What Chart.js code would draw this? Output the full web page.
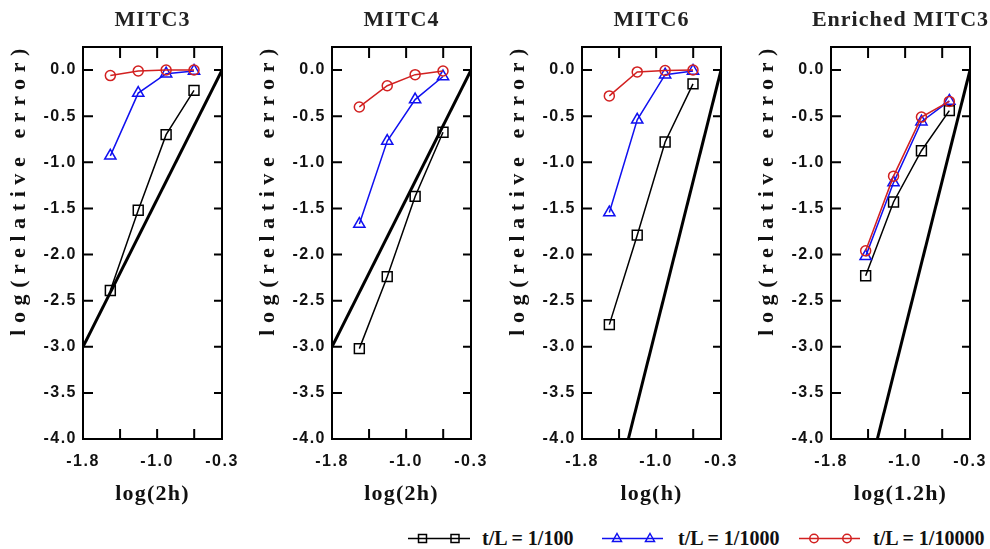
<!DOCTYPE html>
<html>
<head>
<meta charset="utf-8">
<script src="https://cdn.jsdelivr.net/npm/chart.js@4.4.1/dist/chart.umd.min.js"></script>
<style>
html,body{margin:0;padding:0;background:#fff;width:990px;height:549px;overflow:hidden;}
#wrap{position:relative;width:990px;height:549px;}
.panel{position:absolute;top:0;width:242px;height:511px;}
.lg-svg{position:absolute;top:530px;}
.lg-text{position:absolute;top:528px;font-family:"Liberation Serif","Times New Roman",serif;font-weight:bold;font-size:20px;line-height:20px;color:#111;white-space:nowrap;}
</style>
</head>
<body>
<div id="wrap">
  <div class="panel" style="left:0px"><canvas id="c0" width="242" height="511"></canvas></div>
  <div class="panel" style="left:249px"><canvas id="c1" width="242" height="511"></canvas></div>
  <div class="panel" style="left:499px"><canvas id="c2" width="242" height="511"></canvas></div>
  <div class="panel" style="left:748px"><canvas id="c3" width="242" height="511"></canvas></div>

  <svg class="lg-svg" style="left:406px" width="66" height="17">
    <line x1="2" y1="8.5" x2="64" y2="8.5" stroke="#000" stroke-width="1.5"/>
    <rect x="12.5" y="4.5" width="8" height="8" fill="none" stroke="#000" stroke-width="1.5"/>
    <rect x="45" y="4.5" width="8" height="8" fill="none" stroke="#000" stroke-width="1.5"/>
  </svg>
  <span class="lg-text" id="lg0" style="left:482px"></span>

  <svg class="lg-svg" style="left:600px" width="66" height="17">
    <line x1="2" y1="8.5" x2="63" y2="8.5" stroke="#1010f0" stroke-width="1.5"/>
    <polygon points="17,3.5 21.5,11.5 12.5,11.5" fill="none" stroke="#1010f0" stroke-width="1.5"/>
    <polygon points="50,3.5 54.5,11.5 45.5,11.5" fill="none" stroke="#1010f0" stroke-width="1.5"/>
  </svg>
  <span class="lg-text" id="lg1" style="left:678px"></span>

  <svg class="lg-svg" style="left:797px" width="66" height="17">
    <line x1="2" y1="8.5" x2="63" y2="8.5" stroke="#d22020" stroke-width="1.5"/>
    <circle cx="17" cy="8.5" r="4.2" fill="none" stroke="#d22020" stroke-width="1.5"/>
    <circle cx="50" cy="8.5" r="4.2" fill="none" stroke="#d22020" stroke-width="1.5"/>
  </svg>
  <span class="lg-text" id="lg2" style="left:873px"></span>
</div>

<script>
// ---------------- DATA ----------------
const panelTitles = ['MITC3', 'MITC4', 'MITC6', 'Enriched MITC3'];
const xAxisTitles = ['log(2h)', 'log(2h)', 'log(h)', 'log(1.2h)'];
const yAxisTitle = 'log(relative error)';
const seriesLabels = ['t/L = 1/100', 't/L = 1/1000', 't/L = 1/10000'];

const xTickLabels = [-1.8, -1.0, -0.3];
const xMinorTicks = [-1.4, -1.0, -0.6];
const yTickValues = [-4.0, -3.5, -3.0, -2.5, -2.0, -1.5, -1.0, -0.5, 0.0];

// x positions of the meshes
const xMITC3 = [-1.505, -1.204, -0.903, -0.602];
const xMITC4 = [-1.505, -1.204, -0.903, -0.602];
const xMITC6 = [-1.505, -1.204, -0.903, -0.602];
const xEnriched = [-1.426, -1.125, -0.824, -0.523];

// MITC3
const mitc3_100   = [-2.39, -1.52, -0.70, -0.22];
const mitc3_1000  = [-0.93, -0.25, -0.04, -0.01];
const mitc3_10000 = [-0.06, -0.01, 0.00, 0.00];
// MITC4
const mitc4_100   = [-3.02, -2.24, -1.37, -0.675];
const mitc4_1000  = [-1.67, -0.77, -0.32, -0.07];
const mitc4_10000 = [-0.40, -0.17, -0.05, -0.01];
// MITC6
const mitc6_100   = [-2.76, -1.79, -0.78, -0.15];
const mitc6_1000  = [-1.545, -0.54, -0.05, -0.01];
const mitc6_10000 = [-0.28, -0.02, -0.005, 0.00];
// Enriched MITC3
const enr_100   = [-2.23, -1.43, -0.875, -0.44];
const enr_1000  = [-2.02, -1.22, -0.56, -0.335];
const enr_10000 = [-1.96, -1.15, -0.51, -0.34];

// optimal-rate reference lines
const refX_low = [-1.8, -0.3];
const refY_low = [-3.0, 0.0];
const refX_high = [-1.3, -0.3];
const refY_high = [-4.0, 0.0];

// ---------------- STYLE / SETUP ----------------
const BLACK = '#000000', BLUE = '#1010f0', RED = '#d22020';
const SERIF = '"Liberation Serif","Times New Roman",serif';
const SANS = '"Liberation Sans",Arial,sans-serif';

seriesLabels.forEach((t, i) => { document.getElementById('lg' + i).textContent = t; });

function pts(xs, ys) { return xs.map((x, i) => ({ x: x, y: ys[i] })); }

function withSpacing(obj, name, sp, shiftFn) {
  if (!obj || obj['_sp_' + name]) return;
  const orig = obj[name];
  obj[name] = function () {
    const ctx = this.ctx;
    ctx.save();
    if ('letterSpacing' in ctx) ctx.letterSpacing = sp + 'px';
    if (shiftFn) { const d = shiftFn(this); ctx.translate(d[0], d[1]); }
    const r = orig.apply(this, arguments);
    ctx.restore();
    return r;
  };
  obj['_sp_' + name] = true;
}

const spacingPlugin = {
  id: 'spacing',
  beforeDraw(chart) {
    const ca = chart.chartArea;
    withSpacing(chart.titleBlock, 'draw', 1, t => [(ca.left + ca.right) / 2 - (t.left + t.right) / 2, 0]);
    withSpacing(chart.scales.x, 'drawLabels', 1.5);
    withSpacing(chart.scales.y, 'drawLabels', 1.5);
    withSpacing(chart.scales.x, 'drawTitle', 1.2);
    withSpacing(chart.scales.y, 'drawTitle', 6.6, () => [0, -5]);
  }
};

const framePlugin = {
  id: 'frame',
  beforeDatasetsDraw(chart) {
    const { ctx, chartArea: { left, right, top, bottom }, scales: { x, y } } = chart;
    ctx.save();
    ctx.strokeStyle = '#000';
    ctx.lineWidth = 2;
    ctx.beginPath();
    xMinorTicks.forEach(v => {
      const px = x.getPixelForValue(v);
      ctx.moveTo(px, bottom); ctx.lineTo(px, bottom - 10);
      ctx.moveTo(px, top); ctx.lineTo(px, top + 11);
    });
    yTickValues.forEach(v => {
      const py = y.getPixelForValue(v);
      ctx.moveTo(left, py); ctx.lineTo(left + 10, py);
      ctx.moveTo(right, py); ctx.lineTo(right - 8, py);
    });
    ctx.stroke();
    ctx.strokeRect(left, top, right - left, bottom - top);
    ctx.restore();
  }
};

function makeChart(id, idx, xs, s100, s1000, s10000, rx, ry) {
  const datasets = [
    { label: seriesLabels[2], data: pts(xs, s10000), borderColor: RED, borderWidth: 1.5,
      pointStyle: 'circle', pointRadius: 5, pointBorderWidth: 1.5, pointBorderColor: RED,
      pointBackgroundColor: 'rgba(0,0,0,0)', showLine: true, order: 0 },
    { label: seriesLabels[1], data: pts(xs, s1000), borderColor: BLUE, borderWidth: 1.5,
      pointStyle: 'triangle', pointRadius: 6.5, pointBorderWidth: 1.5, pointBorderColor: BLUE,
      pointBackgroundColor: 'rgba(0,0,0,0)', showLine: true, order: 1 },
    { label: seriesLabels[0], data: pts(xs, s100), borderColor: BLACK, borderWidth: 1.5,
      pointStyle: 'rect', pointRadius: 7, pointBorderWidth: 1.5, pointBorderColor: BLACK,
      pointBackgroundColor: 'rgba(0,0,0,0)', showLine: true, order: 2 },
    { label: 'reference', data: pts(rx, ry), borderColor: BLACK, borderWidth: 3,
      pointRadius: 0, showLine: true, order: 3 }
  ];
  return new Chart(document.getElementById(id), {
    type: 'scatter',
    data: { datasets },
    plugins: [spacingPlugin, framePlugin],
    options: {
      responsive: false,
      animation: false,
      devicePixelRatio: 1,
      layout: { padding: { left: 0, right: 20, top: 0, bottom: 0 } },
      plugins: {
        legend: { display: false },
        tooltip: { enabled: false },
        title: {
          display: true, text: panelTitles[idx], color: '#222',
          font: { family: SERIF, size: 22, weight: 'bold', lineHeight: 1 },
          padding: { top: 9, bottom: 16 }
        }
      },
      scales: {
        x: {
          type: 'linear', min: -1.8, max: -0.3,
          afterFit: s => { s.height = 72; s.paddingLeft = 0; s.paddingRight = 0; },
          afterBuildTicks: s => { s.ticks = xTickLabels.map(v => ({ value: v })); },
          grid: { display: false, drawTicks: false },
          border: { display: false },
          ticks: { autoSkip: false, maxRotation: 0, padding: 13, color: '#111',
                   font: { family: SANS, size: 16, weight: 'bold' },
                   callback: v => Number(v).toFixed(1) },
          title: { display: true, text: xAxisTitles[idx], color: '#111',
                   font: { family: SERIF, size: 22, weight: 'bold', lineHeight: 1 },
                   padding: { top: 0, bottom: 6 } }
        },
        y: {
          type: 'linear', min: -4, max: 0.25,
          afterFit: s => { s.width = 83; s.paddingTop = 0; s.paddingBottom = 0; },
          afterBuildTicks: s => { s.ticks = yTickValues.map(v => ({ value: v })); },
          grid: { display: false, drawTicks: false },
          border: { display: false },
          ticks: { autoSkip: false, padding: 6, color: '#111',
                   font: { family: SANS, size: 16, weight: 'bold' },
                   callback: v => Number(v).toFixed(1) },
          title: { display: true, text: yAxisTitle, align: 'end', color: '#111',
                   font: { family: SERIF, size: 22, weight: 'bold', lineHeight: 1 },
                   padding: { top: 8, bottom: 0 } }
        }
      }
    }
  });
}

makeChart('c0', 0, xMITC3, mitc3_100, mitc3_1000, mitc3_10000, refX_low, refY_low);
makeChart('c1', 1, xMITC4, mitc4_100, mitc4_1000, mitc4_10000, refX_low, refY_low);
makeChart('c2', 2, xMITC6, mitc6_100, mitc6_1000, mitc6_10000, refX_high, refY_high);
makeChart('c3', 3, xEnriched, enr_100, enr_1000, enr_10000, refX_high, refY_high);
</script>
</body>
</html>
